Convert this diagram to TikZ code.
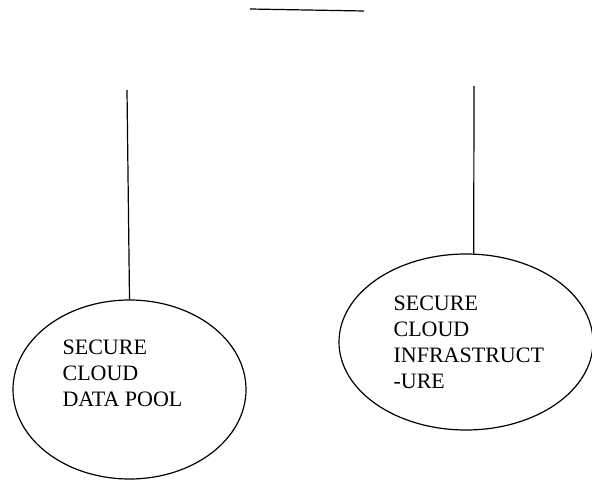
\documentclass[tikz,border=0pt]{standalone}
\usepackage{fontspec}
\setmainfont{Liberation Serif}
\usetikzlibrary{shapes.geometric}
\begin{document}
\begin{tikzpicture}[x=1pt,y=-1pt,line width=1.2pt,
    bulle/.style={draw,ellipse,inner sep=0pt},
    texte/.style={anchor=base west,align=left,inner sep=0pt,font=\fontsize{22}{26}\selectfont}]
        \useasboundingbox (0,0) rectangle (592,481);
        \coordinate (h1) at (250,9);
        \coordinate (h2) at (364,11);
        \draw (h1) -- (h2); % trait du haut
        \node[bulle,minimum width=233pt,minimum height=179pt] (pool) at (129.5,389.5) {};
        \node[bulle,minimum width=254pt,minimum height=176pt] (infra) at (466,342) {};
        \coordinate (g) at (127,90);
        \coordinate (d) at (474,86);
        \draw (g) -- (pool.north);
        \draw (d) -- (infra.85);
        \node[texte] (tpool) at (62,406) {SECURE\\CLOUD\\DATA POOL};
        \node[texte] (tinfra) at (393,388) {SECURE\\CLOUD\\INFRASTRUCT\\-URE};
    \end{tikzpicture}
\end{document}
